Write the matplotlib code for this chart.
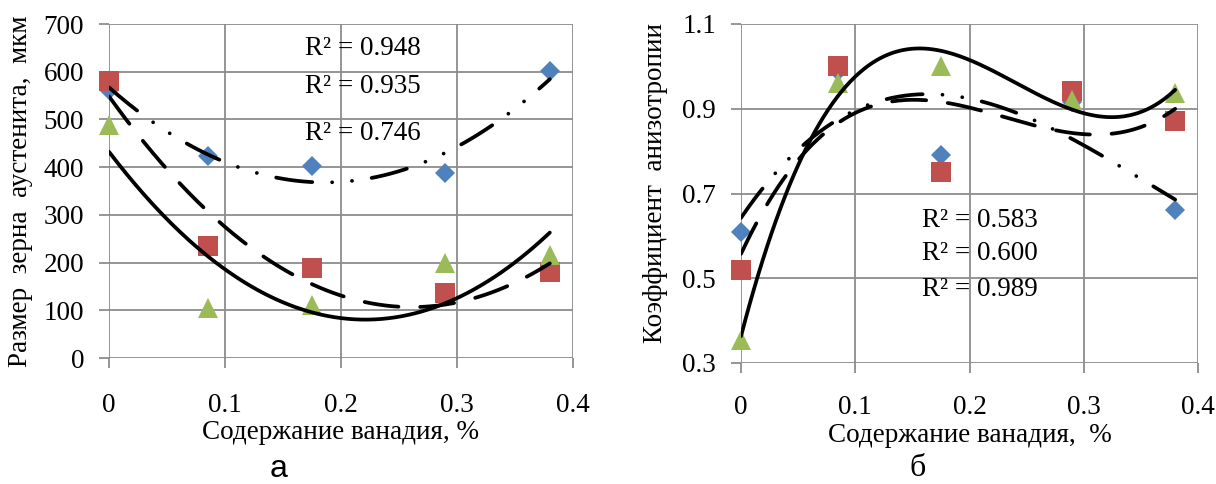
import numpy as np
import matplotlib.pyplot as plt

plt.rcParams['font.family'] = ['Liberation Serif', 'DejaVu Serif']

# Vanadium content, %
vanadium = [0, 0.085, 0.175, 0.29, 0.38]

# Austenite grain size, um
grain_blue = [562, 423, 402, 388, 602]
grain_red = [581, 235, 188, 136, 181]
grain_green = [489, 104, 111, 199, 216]
grain_r2 = ['R² = 0.948', 'R² = 0.935', 'R² = 0.746']

# Anisotropy coefficient
aniso_blue = [0.61, 0.99, 0.79, 0.915, 0.66]
aniso_red = [0.52, 1.0, 0.75, 0.943, 0.87]
aniso_green = [0.355, 0.96, 1.0, 0.92, 0.938]
aniso_r2 = ['R² = 0.583', 'R² = 0.600', 'R² = 0.989']

BLUE, RED, GREEN = '#4F81BD', '#C0504D', '#9BBB59'
GRID = '#8c8c8c'
FS = 19.5

LW = 2.7
style_blue = (0, (9.7, 5.3, 0.01, 5.3, 0.01, 5.3))
style_red = (0, (9.1, 5.8))

W, H = 1216, 484


def setup(ax, ylim, yticks, ylabels, xpad):
    ax.set_xlim(0, 0.4)
    ax.set_ylim(*ylim)
    ax.set_xticks([0, 0.1, 0.2, 0.3, 0.4])
    ax.set_xticklabels(['0', '0.1', '0.2', '0.3', '0.4'])
    ax.set_yticks(yticks)
    ax.set_yticklabels(ylabels)
    ax.grid(True, color=GRID, lw=1.3)
    for s in ax.spines.values():
        s.set_visible(False)
    ax.tick_params(length=7, width=1.3, color=GRID, labelsize=FS)
    ax.tick_params(axis='x', pad=xpad)
    ax.tick_params(axis='y', pad=11)
    ax.set_axisbelow(True)


def trend(ax, y, deg, style, color='black'):
    xs = np.linspace(0, 0.38, 200)
    p = np.polyfit(vanadium, y, deg)
    ln, = ax.plot(xs, np.polyval(p, xs), color=color, lw=LW, ls=style,
                  dash_capstyle='round', solid_capstyle='round', zorder=4)
    return ln


def markers(ax, yb, yr, yg):
    ax.plot(vanadium, yb, 'D', color=BLUE, ms=10.2, mew=0, zorder=3, clip_on=False)
    ax.plot(vanadium, yr, 's', color=RED, ms=14.5, mew=0, zorder=3, clip_on=False)
    ax.plot(vanadium, yg, '^', color=GREEN, ms=14.5, mew=0, zorder=3, clip_on=False)


fig = plt.figure(figsize=(W / 100, H / 100), dpi=100)

# left: grain size
ax1 = fig.add_axes([109 / W, 126 / H, 464 / W, 334 / H])
setup(ax1, (0, 700), range(0, 701, 100), [str(v) for v in range(0, 701, 100)], 18)
markers(ax1, grain_blue, grain_red, grain_green)
trend(ax1, grain_blue, 2, style_blue)
trend(ax1, grain_red, 2, style_red)
trend(ax1, grain_green, 2, '-')
for txt, yv in zip(grain_r2, [649, 569, 471]):
    ax1.text(0.169, yv, txt, fontsize=FS, va='center', ha='left', zorder=5)
ax1.set_ylabel('Размер  зерна  аустенита,  мкм', fontsize=FS)
ax1.yaxis.set_label_coords(-0.164, 0.5)
ax1.set_xlabel('Содержание ванадия, %', fontsize=FS, va='top')
ax1.xaxis.set_label_coords(0.5, -0.186)

# right: anisotropy coefficient
ax2 = fig.add_axes([741 / W, 121 / H, 457 / W, 339 / H])
setup(ax2, (0.3, 1.1), [0.3, 0.5, 0.7, 0.9, 1.1], ['0.3', '0.5', '0.7', '0.9', '1.1'], 16)
markers(ax2, aniso_blue, aniso_red, aniso_green)
trend(ax2, aniso_blue, 3, style_blue)
trend(ax2, aniso_red, 3, style_red)
trend(ax2, aniso_green, 3, '-')
for txt, yv in zip(aniso_r2, [0.637, 0.559, 0.474]):
    ax2.text(0.158, yv, txt, fontsize=FS, va='center', ha='left', zorder=5)
ax2.set_ylabel('Коэффициент  анизотропии', fontsize=FS)
ax2.yaxis.set_label_coords(-0.16, 0.531)
ax2.set_xlabel('Содержание ванадия,  %', fontsize=FS, va='top')
ax2.xaxis.set_label_coords(0.5, -0.178)

fig.text(279 / W, 1 - 477 / H, 'а', fontsize=23, ha='center', va='baseline',
         family=['Liberation Sans', 'DejaVu Sans'])
fig.text(918 / W, 1 - 476 / H, 'б', fontsize=23, ha='center', va='baseline')

fig.savefig('out.png', dpi=100)
